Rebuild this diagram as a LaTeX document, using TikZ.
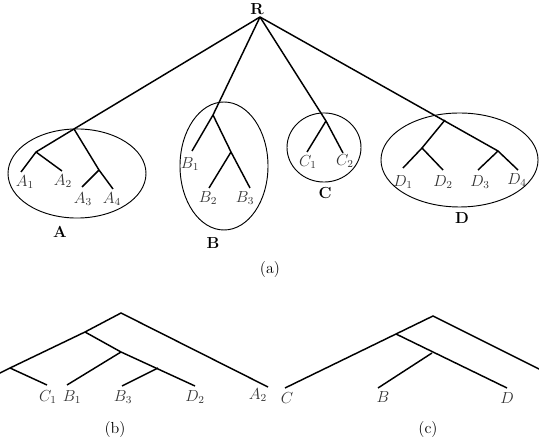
\documentclass[tikz,border=0pt]{standalone}
\usetikzlibrary{calc}
\begin{document}
\begin{tikzpicture}[x=0.75pt,y=-0.75pt,
  edge/.style={line width=1.1pt},
  grp/.style={line width=0.7pt},
  leaf/.style={text=black!80, font=\large, inner sep=0pt},
  glabel/.style={font=\large\bfseries, inner sep=0pt},
  capt/.style={font=\large, inner sep=0pt}]
\useasboundingbox (0,0) rectangle (539,448);
\clip (0,0) rectangle (539,448);
% ---------- (a) ----------
\node[glabel] (Rl) at (257,9) {R};
\coordinate (R) at (260,17);
% A
\coordinate (a0) at (74,129);
\coordinate (a12) at (36,152);
\coordinate (a1) at (21,172);
\coordinate (a2) at (62,171);
\coordinate (a34) at (99,170);
\coordinate (a3) at (82,187);
\coordinate (a4) at (113,189);
\draw[edge] (R) -- (a0) -- (a12) -- (a1);
\draw[edge] (a12) -- (a2);
\draw[edge] (a0) -- (a34) -- (a4);
\draw[edge] (a34) -- (a3);
% B
\coordinate (b0) at (213,115);
\coordinate (b1) at (192,151);
\coordinate (b23) at (231,152);
\coordinate (b2) at (209,188);
\coordinate (b3) at (250,188);
\draw[edge] (R) -- (b0) -- (b1);
\draw[edge] (b0) -- (b23) -- (b3);
\draw[edge] (b23) -- (b2);
% C
\coordinate (c0) at (326,121);
\coordinate (c1) at (307,152);
\coordinate (c2) at (343,153);
\draw[edge] (R) -- (c0) -- (c2);
\draw[edge] (c0) -- (c1);
% D
\coordinate (d34) at (498,151);
\coordinate (dj) at (445,120);
\coordinate (d12) at (422,148);
\coordinate (d1) at (403,168);
\coordinate (d2) at (443,170);
\coordinate (d3) at (478,170);
\coordinate (d4) at (518,170);
\draw[edge] (R) -- (d34) -- (d4);
\draw[edge] (d34) -- (d3);
\draw[edge] (dj) -- (d12) -- (d1);
\draw[edge] (d12) -- (d2);
% ellipses
\draw[grp] (77,173.5) ellipse [x radius=51.75pt, y radius=33.4pt];
\draw[grp] (224,166) ellipse [x radius=33pt, y radius=48pt];
\draw[grp] (324,147.5) ellipse [x radius=27.75pt, y radius=25.9pt];
\draw[grp] (459.5,160) ellipse [x radius=58.9pt, y radius=35.25pt];
% labels
\node[leaf] (lA1) at (25,182) {$A_1$};
\node[leaf] (lA2) at (63,181) {$A_2$};
\node[leaf] (lA3) at (83,199) {$A_3$};
\node[leaf] (lA4) at (112,199) {$A_4$};
\node[leaf] (lB1) at (190,164) {$B_1$};
\node[leaf] (lB2) at (208,198) {$B_2$};
\node[leaf] (lB3) at (245,198) {$B_3$};
\node[leaf] (lC1) at (308,162) {$C_1$};
\node[leaf] (lC2) at (345,161) {$C_2$};
\node[leaf] (lD1) at (403,182) {$D_1$};
\node[leaf] (lD2) at (443,182) {$D_2$};
\node[leaf] (lD3) at (480,182) {$D_3$};
\node[leaf] (lD4) at (517,180) {$D_4$};
\node[glabel] (gA) at (60,232) {A};
\node[glabel] (gB) at (213,243) {B};
\node[glabel] (gC) at (325,193) {C};
\node[glabel] (gD) at (462,218) {D};
\node[capt] (capa) at (270,270) {(a)};
% ---------- (b) ----------
\coordinate (br) at (121,313);
\coordinate (bn1) at (85,332);
\coordinate (bn2) at (10,368);
\coordinate (bcut) at (-20,383);
\coordinate (bc1) at (47,385);
\coordinate (bn3) at (121,352);
\coordinate (bb1) at (67,385);
\coordinate (bn4) at (158,368);
\coordinate (bb3) at (122,386);
\coordinate (bd2) at (195,386);
\coordinate (ba2) at (268,387);
\draw[edge] (ba2) -- (br) -- (bn1) -- (bn2) -- (bcut);
\draw[edge] (bn2) -- (bc1);
\draw[edge] (bn1) -- (bn3) -- (bd2);
\draw[edge] (bn3) -- (bb1);
\draw[edge] (bn4) -- (bb3);
\node[leaf] (lbC1) at (48,397) {$C_1$};
\node[leaf] (lbB1) at (72,397) {$B_1$};
\node[leaf] (lbB3) at (123,397) {$B_3$};
\node[leaf] (lbD2) at (195,397) {$D_2$};
\node[leaf] (lbA2) at (258,395) {$A_2$};
\node[capt] (capb) at (115,430) {(b)};
% ---------- (c) ----------
\coordinate (cr) at (433,316);
\coordinate (cl) at (396,334);
\coordinate (cC) at (285,388);
\coordinate (cbd) at (432,353);
\coordinate (cB) at (378,388);
\coordinate (cD) at (507,388);
\coordinate (ccut) at (577,388);
\draw[edge] (ccut) -- (cr) -- (cl) -- (cC);
\draw[edge] (cl) -- (cD);
\draw[edge] (cbd) -- (cB);
\node[leaf] (lcC) at (287,398) {$C$};
\node[leaf] (lcB) at (383,397) {$B$};
\node[leaf] (lcD) at (507,398) {$D$};
\node[capt] (capc) at (428,430) {(c)};
\end{tikzpicture}
\end{document}
